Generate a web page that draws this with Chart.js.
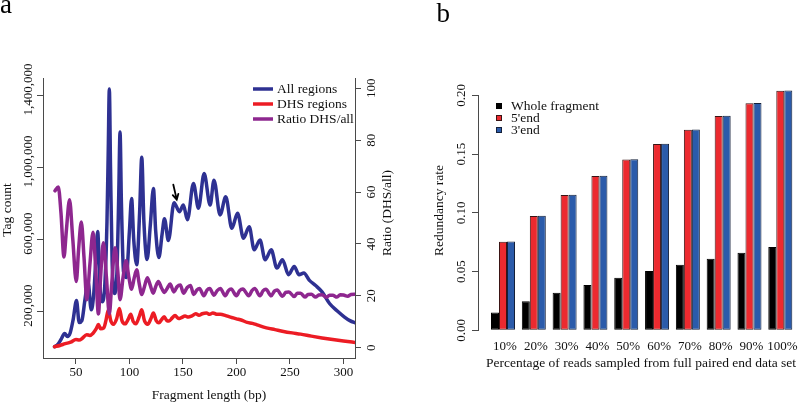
<!DOCTYPE html>
<html><head><meta charset="utf-8">
<script src="https://cdn.jsdelivr.net/npm/chart.js@4/dist/chart.umd.min.js"></script>
<style>
html,body{margin:0;padding:0;background:#fff;overflow:hidden;width:800px;height:403px;}
#wa{position:absolute;left:0;top:0;width:400px;height:403px;}
#wb{position:absolute;left:400px;top:0;width:410px;height:403px;}
</style></head><body>
<div id="wa"><canvas id="ca" width="400" height="403"></canvas></div>
<div id="wb"><canvas id="cb" width="410" height="403"></canvas></div>
<script>
// ---------- Panel a data ----------
const panelLabels = ['a', 'b'];
const seriesNamesA = ['All regions', 'DHS regions', 'Ratio DHS/all'];
const allLen = [30,33,36,39.5,42,44.5,47.5,50.5,53,55.5,58.5,61.3,64.3,66.5,68.5,70.3,72.5,74.5,77,79,80.2,81.2,82.3,83.8,86.3,88.5,90,91.2,92.5,94.5,97,100,102,104,106.8,109.5,111.5,113.5,116.5,119.5,122.4,124.5,127.5,130.5,132.7,136.4,141.7,146.7,150.4,154.2,159.8,164.5,169.8,175.4,179,184.7,190,195.7,201,206.6,211.9,216.6,222,226.8,232.5,237.8,243,248.7,254,258.5,263,268,274,280,287,294,301,306,312];
const allCount = [5000,18000,45000,78000,62000,80000,160000,262000,140000,150000,270000,365000,210000,290000,480000,645000,330000,255000,350000,700000,1100000,1437000,1000000,480000,300000,450000,850000,1197000,800000,420000,390000,650000,829000,600000,460000,750000,1058000,700000,490000,680000,884000,650000,500000,630000,716000,595000,805000,755000,792000,710000,912000,774000,967000,792000,930000,737000,838000,663000,746000,608000,672000,543000,598000,488000,543000,442000,488000,405000,451000,405000,414000,375000,345000,310000,245000,205000,170000,150000,135000];
const dhsLen = [30,35,40,45,50,53,56,60,63,66,69,71,73,76,78,80.3,82.5,85,88,90.6,93,96,99,101.2,103.5,106,109,111.5,114,117,120,122.4,125,127.5,130,132.4,135,137,140,142.6,146,148,152,155,158,162,165,168,172,175,178,182,185,190,193,197,200,205,210,215,220,228,236,244,252,260,270,280,290,300,312];
const dhsCount = [5000,12000,22000,30000,45000,42000,52000,72000,68000,80000,105000,128000,105000,110000,150000,210000,150000,130000,160000,218000,150000,132000,160000,185000,145000,132000,170000,210000,150000,130000,160000,192000,150000,138000,155000,172000,150000,148000,165000,178000,162000,165000,175000,170000,175000,188000,180000,188000,192000,185000,193000,185000,186000,178000,172000,165000,160000,152000,140000,135000,125000,110000,100000,90000,82000,75000,64000,54000,45000,37000,28000];
const ratioLen = [30.4,33.5,36,38.8,41,44,47,50.3,52.5,55,57.5,60.2,63,66,68.5,71,73,75.6,78.5,81.2,83.5,86.5,89,91.2,94,96.8,99.5,102,104.5,106.8,109,111.5,114,116.7,119.5,122.2,124.5,127,130,132.7,135.5,138,141.5,144.5,147.5,150.5,154,157,160,163,165.5,169.5,172.5,175,179,182,185,189.5,192.5,195,200,203,206,211.5,214.5,217,222,225,227.5,232.5,235.5,238,243,246,249,254,257,260,264,267,270,274,277,280,284,287,290,294,297,300,304,307,311];
const ratioVal = [60.5,62,52,35,45,57,42,25.5,38,48.5,35,18.5,32,44.5,30,13,27,40.5,27,13,25,38.5,30,18.5,27,33.5,27,22.5,27,30,25,20.5,23.5,27,24,21,23.5,25.5,23,21.3,23,24.5,21.5,23.5,24.2,21,23.2,24,20.5,22.2,22.8,20,22.2,22.8,20.2,22,22.8,20,22,22.6,20,22,22.6,20,22,22.8,20,22,22.5,20,21.8,22.2,19.8,21.3,21.5,19.7,21,21,19.5,20.5,20.6,19.5,20.3,20.4,19.4,20.2,20.2,19.5,20.4,20.3,19.8,20.5,20.6];
const xTicksA = [50,100,150,200,250,300];
const countTicks = [200000,600000,1000000,1400000];
const ratioTicks = [0,20,40,60,80,100];
const axisTitlesA = ['Fragment length (bp)', 'Tag count', 'Ratio (DHS/all)'];
const arrowFrom = [141, 905000];
const arrowTo = [144.2, 822000];

// ---------- Panel b data ----------
const categoriesB = ['10%','20%','30%','40%','50%','60%','70%','80%','90%','100%'];
const seriesNamesB = ['Whole fragment', "5'end", "3'end"];
const wholeFrag = [0.0153,0.0247,0.0320,0.0386,0.0448,0.0505,0.0559,0.0610,0.0660,0.0709];
const end5 = [0.0754,0.0973,0.1151,0.1313,0.1455,0.1586,0.1708,0.1824,0.1932,0.2039];
const end3 = [0.0756,0.0975,0.1153,0.1315,0.1457,0.1588,0.1710,0.1826,0.1934,0.2041];
const yTicksB = [0, 0.05, 0.10, 0.15, 0.20];
const axisTitlesB = ['Percentage of reads sampled from full paired end data set', 'Redundancy rate'];

// ---------- styling ----------
const SERIF = "'Liberation Serif','Times New Roman',serif";
const AX = '#4a4a4a';
const TXT = '#111';
const colA = ['#2E3192', '#EC1C24', '#8E278F'];
const colB = ['#000000', '#EC2A2F', '#2B5BAA'];
const borderB = ['#000000', '#3a1414', '#14203a'];
const zip = (xs, ys) => xs.map((x, i) => ({x: x, y: ys[i]}));
const f13 = {family: SERIF, size: 13};
const f135 = {family: SERIF, size: 13.5};

function rotText(ctx, text, x, y) {
  ctx.save();
  ctx.translate(x, y);
  ctx.rotate(-Math.PI / 2);
  ctx.textAlign = 'center'; ctx.textBaseline = 'middle';
  ctx.fillText(text, 0, 0);
  ctx.restore();
}

// ---------- Panel a ----------
const annotA = {
  id: 'annotA',
  afterDraw(chart) {
    const ctx = chart.ctx, ca = chart.chartArea;
    ctx.save();
    ctx.fillStyle = '#000';
    ctx.font = '27px ' + SERIF;
    ctx.textAlign = 'left'; ctx.textBaseline = 'alphabetic';
    ctx.fillText(panelLabels[0], 0, 13);
    // axis titles
    ctx.fillStyle = TXT; ctx.font = '13.5px ' + SERIF;
    ctx.textAlign = 'center'; ctx.textBaseline = 'middle';
    ctx.fillText(axisTitlesA[0], (ca.left + ca.right) / 2 + 10, 395);
    rotText(ctx, axisTitlesA[1], 7, (ca.top + ca.bottom) / 2 - 8);
    rotText(ctx, axisTitlesA[2], 387, (ca.top + ca.bottom) / 2 - 5);
    // legend
    ctx.font = '13.5px ' + SERIF; ctx.textBaseline = 'middle'; ctx.textAlign = 'left';
    chart.data.datasets.forEach((ds, i) => {
      const y = 89 + i * 15;
      ctx.strokeStyle = ds.borderColor; ctx.lineWidth = 3.5;
      ctx.beginPath(); ctx.moveTo(253, y); ctx.lineTo(273, y); ctx.stroke();
      ctx.fillStyle = TXT; ctx.fillText(ds.label, 277, y + 0.5);
    });
    // arrow
    const xs = chart.scales.x, ys = chart.scales.y;
    const x0 = xs.getPixelForValue(arrowFrom[0]), y0 = ys.getPixelForValue(arrowFrom[1]);
    const x1 = xs.getPixelForValue(arrowTo[0]), y1 = ys.getPixelForValue(arrowTo[1]);
    const ang = Math.atan2(y1 - y0, x1 - x0), hl = 6;
    ctx.strokeStyle = '#000'; ctx.lineWidth = 1.8; ctx.lineCap = 'round';
    ctx.beginPath(); ctx.moveTo(x0, y0); ctx.lineTo(x1, y1);
    ctx.moveTo(x1 - hl * Math.cos(ang - 0.5), y1 - hl * Math.sin(ang - 0.5));
    ctx.lineTo(x1, y1);
    ctx.lineTo(x1 - hl * Math.cos(ang + 0.5), y1 - hl * Math.sin(ang + 0.5));
    ctx.stroke();
    ctx.restore();
  }
};

new Chart(document.getElementById('ca'), {
  type: 'line',
  data: {datasets: [
    {label: seriesNamesA[0], data: zip(allLen, allCount), yAxisID: 'y', borderColor: colA[0], order: 2},
    {label: seriesNamesA[1], data: zip(dhsLen, dhsCount), yAxisID: 'y', borderColor: colA[1], order: 1},
    {label: seriesNamesA[2], data: zip(ratioLen, ratioVal), yAxisID: 'y1', borderColor: colA[2], order: 0}
  ]},
  options: {
    responsive: false, animation: false, devicePixelRatio: 1,
    elements: {point: {radius: 0}, line: {borderWidth: 3.5, cubicInterpolationMode: 'monotone', fill: false, borderCapStyle: 'round', borderJoinStyle: 'round'}},
    plugins: {legend: {display: false}, tooltip: {enabled: false}},
    layout: {padding: {top: 78, left: 0, right: 0, bottom: 0}},
    scales: {
      x: {
        type: 'linear', position: 'bottom', min: 19.2, max: 310.8,
        afterBuildTicks: s => { s.ticks = xTicksA.map(v => ({value: v})); },
        afterFit: s => { s.height = 45; },
        border: {display: true, color: AX, width: 1},
        grid: {drawOnChartArea: false, drawTicks: true, tickLength: 6, color: AX},
        ticks: {font: f13, color: TXT, padding: 1, maxRotation: 0, autoSkip: false}
      },
      y: {
        type: 'linear', position: 'left', min: -57600, max: 1497600,
        afterBuildTicks: s => { s.ticks = countTicks.map(v => ({value: v})); },
        afterFit: s => { s.width = 43; },
        border: {display: true, color: AX, width: 1},
        grid: {drawOnChartArea: false, drawTicks: true, tickLength: 6, color: AX},
        ticks: {font: f13, color: TXT, minRotation: 90, maxRotation: 90, crossAlign: 'center', padding: -18, labelOffset: -6, autoSkip: false,
                callback: v => Number(v).toLocaleString('en-US')}
      },
      y1: {
        type: 'linear', position: 'right', min: -4, max: 104,
        afterBuildTicks: s => { s.ticks = ratioTicks.map(v => ({value: v})); },
        afterFit: s => { s.width = 45; },
        border: {display: true, color: AX, width: 1},
        grid: {drawOnChartArea: false, drawTicks: true, tickLength: 6, color: AX},
        ticks: {font: f13, color: TXT, minRotation: 90, maxRotation: 90, crossAlign: 'center', padding: 1, autoSkip: false}
      }
    }
  },
  plugins: [annotA]
});

// ---------- Panel b ----------
const annotB = {
  id: 'annotB',
  afterDraw(chart) {
    const ctx = chart.ctx, ca = chart.chartArea, ys = chart.scales.y;
    ctx.save();
    // y axis line from first to last tick
    ctx.strokeStyle = AX; ctx.lineWidth = 1;
    const xa = Math.round(ca.left) - 0.5;
    ctx.beginPath();
    ctx.moveTo(xa, ys.getPixelForValue(yTicksB[0]));
    ctx.lineTo(xa, ys.getPixelForValue(yTicksB[yTicksB.length - 1]));
    ctx.stroke();
    // panel letter
    ctx.fillStyle = '#000'; ctx.font = '27px ' + SERIF;
    ctx.textAlign = 'left'; ctx.textBaseline = 'alphabetic';
    ctx.fillText(panelLabels[1], 36.5, 21.5);
    // legend
    ctx.font = '13.5px ' + SERIF; ctx.textBaseline = 'middle';
    chart.data.datasets.forEach((ds, i) => {
      const y = 106 + i * 12;
      ctx.fillStyle = ds.backgroundColor; ctx.fillRect(96, y - 3, 6, 6);
      ctx.strokeStyle = ds.borderColor; ctx.lineWidth = 1; ctx.strokeRect(96.5, y - 2.5, 5, 5);
      ctx.fillStyle = TXT; ctx.fillText(ds.label, 111, y + 0.5);
    });
    ctx.restore();
  }
};

const barData = [wholeFrag, end5, end3];
new Chart(document.getElementById('cb'), {
  type: 'bar',
  data: {datasets: barData.map((arr, k) => ({
    label: seriesNamesB[k],
    data: arr.map((v, i) => ({x: i, y: v})),
    backgroundColor: colB[k], borderColor: borderB[k], borderWidth: 1, borderSkipped: false
  }))},
  options: {
    responsive: false, animation: false, devicePixelRatio: 1,
    datasets: {bar: {categoryPercentage: 0.779, barPercentage: 1.0, grouped: true}},
    plugins: {legend: {display: false}, tooltip: {enabled: false}},
    layout: {padding: {top: 81, left: 0, right: 7, bottom: 0}},
    scales: {
      x: {
        type: 'linear', min: -0.779, max: 9.737, offset: false,
        afterBuildTicks: s => { s.ticks = categoriesB.map((c, i) => ({value: i})); },
        afterFit: s => { s.height = 63; },
        border: {display: false},
        grid: {display: false, drawTicks: false, offset: false},
        ticks: {font: f13, color: TXT, padding: -1, labelOffset: 2, maxRotation: 0, autoSkip: false,
                callback: v => categoriesB[v]},
        title: {display: true, text: axisTitlesB[0], font: f135, color: TXT, padding: {top: 0, bottom: 31}}
      },
      y: {
        type: 'linear', min: -0.0082, max: 0.2122,
        afterBuildTicks: s => { s.ticks = yTicksB.map(v => ({value: v})); },
        afterFit: s => { s.width = 79; },
        border: {display: false},
        grid: {drawOnChartArea: false, drawTicks: true, tickLength: 7, color: AX},
        ticks: {font: f13, color: TXT, minRotation: 90, maxRotation: 90, crossAlign: 'center', padding: -1, autoSkip: false,
                callback: v => Number(v).toFixed(2)},
        title: {display: true, text: axisTitlesB[1], font: f135, color: TXT, padding: {top: 31, bottom: 0}}
      }
    }
  },
  plugins: [annotB]
});
</script>
</body></html>
